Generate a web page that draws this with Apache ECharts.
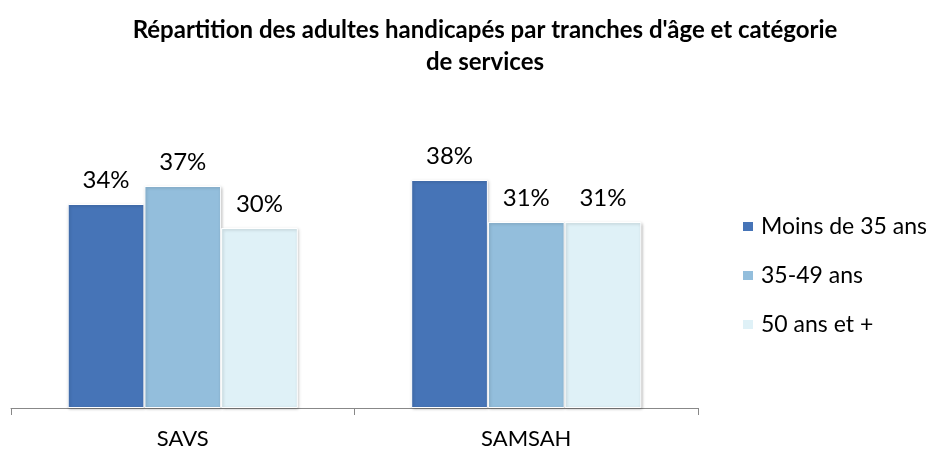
<!DOCTYPE html>
<html>
<head>
<meta charset="utf-8">
<script src="https://cdn.jsdelivr.net/npm/echarts@6/dist/echarts.min.js"></script>
<style>html,body{margin:0;padding:0;background:#fff;}#c{width:939px;height:450px;}</style>
</head>
<body>
<div id="c"></div>
<script>
const categories = ['SAVS', 'SAMSAH'];
const seriesNames = ['Moins de 35 ans', '35-49 ans', '50 ans et +'];
const moins35 = [34, 38];
const de35a49 = [37, 31];
const plus50 = [30, 31];
const colors = ['#4674b7', '#93bedc', '#dff1f7'];
const values = [moins35, de35a49, plus50];
const FONT = 'Lato';

const chart = echarts.init(document.getElementById('c'));
chart.setOption({
  animation: false,
  title: {
    text: "Répartition des adultes handicapés par tranches d'âge et catégorie\nde services",
    left: 480, textAlign: 'center', top: 9,
    textStyle: { fontFamily: FONT, fontWeight: 'bold', fontSize: 24, lineHeight: 32, color: '#000' }
  },
  legend: {
    orient: 'vertical', left: 741, top: 215, itemGap: 26, padding: 0,
    itemWidth: 12, itemHeight: 11, icon: 'rect',
    textStyle: { fontFamily: FONT, fontSize: 23, color: '#000', padding: [0, 0, 0, 2] },
    data: seriesNames
  },
  grid: { left: 11, right: 241, top: 168, bottom: 42 },
  xAxis: {
    type: 'category', data: categories,
    axisLine: { lineStyle: { color: '#888', width: 1 } },
    axisTick: { show: true, length: 7, lineStyle: { color: '#888' } },
    axisLabel: { fontFamily: FONT, fontSize: 22, color: '#000', margin: 20 }
  },
  yAxis: { type: 'value', min: 0, max: 40, show: false, splitLine: { show: false } },
  series: values.map((v, i) => ({
    name: seriesNames[i], type: 'bar', data: v,
    barGap: '0%', barCategoryGap: '33%',
    itemStyle: { color: colors[i], borderColor: '#fff', borderWidth: 1,
      shadowColor: 'rgba(0,0,0,0.25)', shadowBlur: 3, shadowOffsetX: 1, shadowOffsetY: 1 },
    label: { show: true, position: 'top', distance: 12, formatter: '{c}%',
      fontFamily: FONT, fontSize: 24, color: '#000' }
  }))
});
</script>
</body>
</html>
